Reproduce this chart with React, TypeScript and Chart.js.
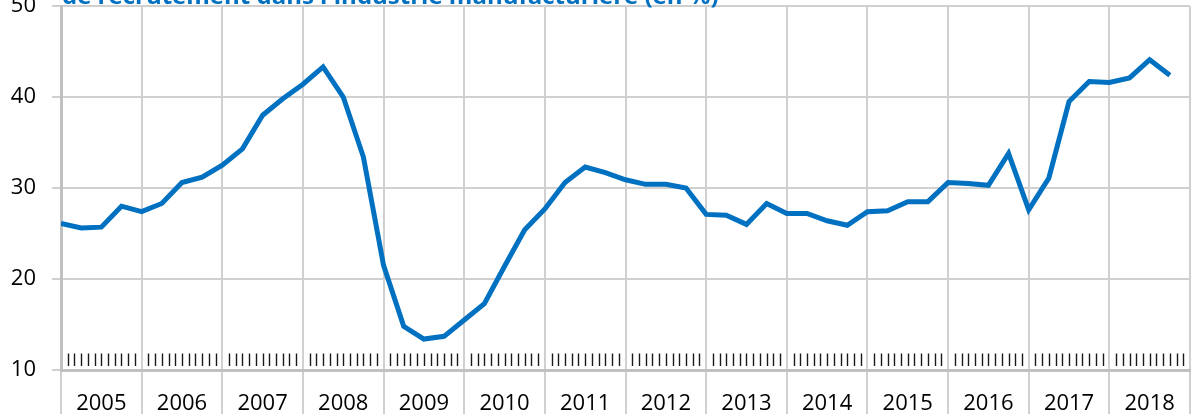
import React, { useEffect, useRef } from "react";
import { Chart, registerables } from "chart.js";

Chart.register(...registerables);

const years = ["2005", "2006", "2007", "2008", "2009", "2010", "2011", "2012", "2013", "2014", "2015", "2016", "2017", "2018"];

const values2005_2008 = [26.1, 25.6, 25.7, 28.0, 27.4, 28.3, 30.6, 31.2, 32.5, 34.3, 38.0, 39.8, 41.4, 43.3, 40.0, 33.4];
const values2009_2012 = [21.5, 14.8, 13.4, 13.7, 15.5, 17.3, 21.4, 25.4, 27.7, 30.6, 32.3, 31.7, 30.9, 30.4, 30.4, 30.0];
const values2013_2016 = [27.1, 27.0, 26.0, 28.3, 27.2, 27.2, 26.4, 25.9, 27.4, 27.5, 28.5, 28.5, 30.6, 30.5, 30.3, 33.8];
const values2017_2018 = [27.6, 31.1, 39.5, 41.7, 41.6, 42.1, 44.1, 42.4];

const seriesValues = [...values2005_2008, ...values2009_2012, ...values2013_2016, ...values2017_2018];

const yTicks = [10, 20, 30, 40, 50];
const titleText = "de recrutement dans l'industrie manufacturière (en %)";

const BLUE = "#0070c0";
const GRID = "#d0d0d0";
const AXIS = "#c0c0c0";
const FONT = "'Open Sans', 'Noto Sans', sans-serif";

const W = 1192;
const H = 444;
const TOP_SHIFT = 30;

export default function App() {
  const canvasRef = useRef<HTMLCanvasElement | null>(null);

  useEffect(() => {
    const canvas = canvasRef.current;
    if (!canvas) return;

    const quarters = years.length * 4;
    const xTickValues: number[] = [];
    for (let v = 0; v <= quarters; v += 2) xTickValues.push(v);

    const titlePlugin = {
      id: "cutTitle",
      afterDraw(chart: any) {
        const ctx = chart.ctx;
        ctx.save();
        ctx.font = `bold 24px ${FONT}`;
        ctx.fillStyle = BLUE;
        ctx.textAlign = "left";
        ctx.textBaseline = "alphabetic";
        ctx.fillText(titleText, chart.chartArea.left + 1, 33.5);
        ctx.restore();
      },
    };

    const monthTicksPlugin = {
      id: "monthTicks",
      beforeDatasetsDraw(chart: any) {
        const ctx = chart.ctx;
        const xs = chart.scales.x;
        const bottom = chart.chartArea.bottom;
        ctx.save();
        ctx.strokeStyle = "#1a1a1a";
        ctx.lineWidth = 1.4;
        ctx.beginPath();
        for (let k = 1; k < years.length * 12; k++) {
          if (k % 12 === 0) continue;
          const px = Math.round(xs.getPixelForValue(k / 3)) + 0.5;
          ctx.moveTo(px, bottom - 16.5);
          ctx.lineTo(px, bottom - 4);
        }
        ctx.stroke();
        ctx.restore();
      },
    };

    const chart = new Chart(canvas, {
      type: "line",
      data: {
        datasets: [
          {
            data: seriesValues.map((v, i) => ({ x: i, y: v })),
            borderColor: BLUE,
            borderWidth: 5,
            pointRadius: 0,
            tension: 0,
            fill: false,
          },
        ],
      },
      options: {
        responsive: false,
        animation: false,
        events: [],
        layout: { padding: { top: 36, left: 0, right: 2, bottom: 0 } },
        plugins: {
          legend: { display: false },
          tooltip: { enabled: false },
          title: { display: false },
        },
        scales: {
          x: {
            type: "linear",
            min: 0,
            max: quarters,
            afterBuildTicks: (scale: any) => {
              scale.ticks = xTickValues.map((v) => ({ value: v }));
            },
            afterFit: (scale: any) => {
              scale.height = H - 400;
            },
            grid: {
              color: (c: any) => (c.tick && c.tick.value % 4 === 0 ? GRID : "rgba(0,0,0,0)"),
              tickColor: (c: any) => (c.tick && c.tick.value % 4 === 0 ? GRID : "rgba(0,0,0,0)"),
              lineWidth: 2,
              drawTicks: true,
              tickLength: 44,
            },
            border: { display: true, color: AXIS, width: 3 },
            ticks: {
              autoSkip: false,
              maxRotation: 0,
              minRotation: 0,
              padding: -23,
              color: "#000",
              font: { family: FONT, size: 22 },
              callback: (value: any) => {
                const v = Number(value);
                if (v % 4 === 2) return years[(v - 2) / 4] ?? "";
                return "";
              },
            },
          },
          y: {
            min: 10,
            max: 50,
            afterBuildTicks: (scale: any) => {
              scale.ticks = yTicks.map((v) => ({ value: v }));
            },
            afterFit: (scale: any) => {
              scale.width = 61;
            },
            grid: {
              color: GRID,
              tickColor: GRID,
              lineWidth: 2,
              drawTicks: true,
              tickLength: 9,
            },
            border: { display: true, color: AXIS, width: 3 },
            ticks: {
              padding: 16,
              color: "#000",
              font: { family: FONT, size: 22 },
              callback: (value: any) => String(value),
            },
          },
        },
      },
      plugins: [monthTicksPlugin, titlePlugin],
    });

    return () => chart.destroy();
  }, []);

  return (
    <div style={{ position: "absolute", left: 0, top: -TOP_SHIFT, width: W, height: H, overflow: "hidden" }}>
      <canvas ref={canvasRef} width={W} height={H} style={{ display: "block", width: W, height: H }} />
    </div>
  );
}
